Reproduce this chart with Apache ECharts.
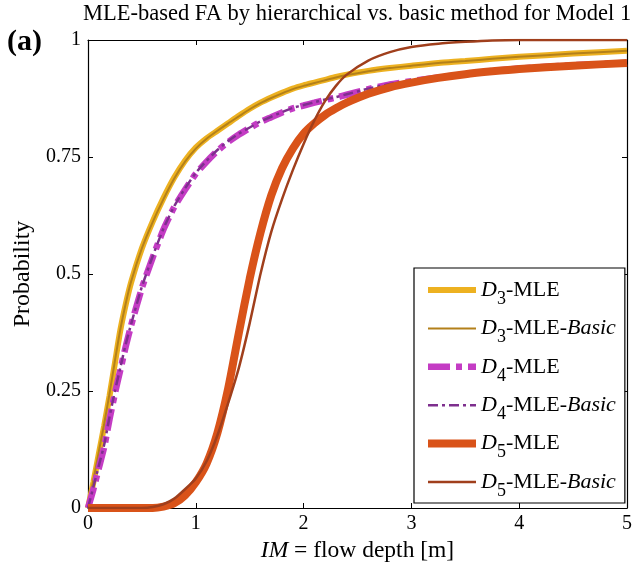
<!DOCTYPE html>
<html>
<head>
<meta charset="utf-8">
<script src="https://cdn.jsdelivr.net/npm/echarts@6/dist/echarts.min.js"></script>
<style>
  html, body { margin: 0; padding: 0; background: #fff; }
  #chart { width: 635px; height: 568px; }
</style>
</head>
<body>
<div id="chart"></div>
<script>
// Fragility curves: probability vs. flow depth, hierarchical vs. basic MLE fits.
const chartTitle = 'MLE-based FA by hierarchical vs. basic method for Model 1';
const panelTag = '(a)';
const xTicks = [0, 1, 2, 3, 4, 5];
const yTicks = [0, 0.25, 0.5, 0.75, 1];

const depth = [0, 0.05, 0.1, 0.15, 0.2, 0.25, 0.3, 0.35, 0.4, 0.5, 0.6, 0.7, 0.8, 0.9,
  1.0, 1.1, 1.2, 1.3, 1.4, 1.5, 1.6, 1.7, 1.8, 1.9, 2.0, 2.1, 2.2, 2.3, 2.4,
  2.6, 2.8, 3.0, 3.25, 3.5, 3.75, 4.0, 4.5, 5.0];

const d3Mle = [0, .055, .115, .175, .24, .31, .38, .435, .482, .555, .612, .662, .706, .742,
  .77, .79, .806, .822, .838, .853, .866, .877, .887, .896, .903, .909, .915, .921, .926,
  .934, .940, .945, .951, .955, .960, .964, .971, .977];
const d3Basic = [0, .06, .12, .18, .245, .315, .382, .437, .484, .555, .611, .660, .704, .740,
  .768, .789, .806, .822, .837, .852, .865, .876, .886, .895, .902, .908, .914, .920, .925,
  .933, .940, .945, .951, .955, .960, .964, .971, .977];
const d4Mle = [0, .04, .085, .13, .19, .245, .295, .345, .39, .47, .535, .595, .643, .68,
  .714, .74, .763, .782, .798, .812, .825, .835, .845, .854, .86, .866, .872, .877, .883,
  .895, .905, .912, .92, .927, .934, .939, .946, .951];
const d4Basic = [0, .045, .09, .135, .195, .25, .30, .35, .393, .473, .538, .597, .645, .683,
  .716, .742, .765, .784, .80, .813, .826, .836, .846, .855, .861, .867, .873, .878, .884,
  .896, .906, .913, .921, .928, .935, .94, .946, .952];
const d5Mle = [0, 0, 0, 0, 0, 0, 0, 0, 0, 0, 0, .003, .01, .027,
  .055, .095, .16, .255, .375, .49, .588, .668, .726, .768, .80, .822, .84, .854, .866,
  .885, .899, .909, .919, .927, .933, .938, .945, .951];
const d5Basic = [0, 0, 0, 0, 0, 0, 0, 0, 0, 0, .002, .008, .02, .04,
  .063, .10, .155, .224, .30, .395, .50, .59, .66, .722, .778, .828, .87, .902, .926,
  .956, .974, .985, .992, .996, .999, 1, 1, 1];

const seriesNames = ['D3-MLE', 'D3-MLE-Basic', 'D4-MLE', 'D4-MLE-Basic', 'D5-MLE', 'D5-MLE-Basic'];
const seriesValues = [d3Mle, d3Basic, d4Mle, d4Basic, d5Mle, d5Basic];
const seriesStyles = [
  { color: '#EDB120', width: 6, type: 'solid' },
  { color: '#B3801A', width: 2, type: 'solid' },
  { color: '#C43CC4', width: 6.5, type: [22, 6, 6, 6] },
  { color: '#7E2F8E', width: 2.5, type: [10, 4, 3, 4] },
  { color: '#D95319', width: 8, type: 'solid' },
  { color: '#A03F1C', width: 2.5, type: 'solid' }
];

const FONT = '"Liberation Serif", "Times New Roman", serif';

function legendLabel(name) {
  // "D3-MLE-Basic" -> italic D, subscript 3, roman "-MLE-", italic "Basic"
  const m = name.match(/^D(\d)-MLE(-Basic)?$/);
  let s = '{it|D}{sub|' + m[1] + '}{rm|-MLE}';
  if (m[2]) s += '{rm|-}{it|Basic}';
  return s;
}

const chart = echarts.init(document.getElementById('chart'), null, { renderer: 'canvas' });

const axisCommon = {
  type: 'value',
  axisLine: { show: true, onZero: false, lineStyle: { color: '#000', width: 1.2 } },
  axisTick: { show: true, inside: true, length: 5, lineStyle: { color: '#000', width: 1 } },
  splitLine: { show: false },
  axisLabel: { color: '#000', fontFamily: FONT, fontSize: 20 }
};

chart.setOption({
  animation: false,
  backgroundColor: '#fff',
  title: [
    { text: chartTitle, left: 83, top: 1, padding: 0,
      textStyle: { fontFamily: FONT, fontSize: 22.5, fontWeight: 'normal', color: '#000', lineHeight: 26 } },
    { text: panelTag, left: 7, top: 25, padding: 0,
      textStyle: { fontFamily: FONT, fontSize: 30, fontWeight: 'bold', color: '#000', lineHeight: 34 } }
  ],
  grid: { left: 88, right: 8, top: 40, bottom: 60, containLabel: false },
  legend: {
    data: seriesNames.map((name, i) => ({
      name: name,
      lineStyle: { width: seriesStyles[i].width, type: seriesStyles[i].type, color: seriesStyles[i].color, cap: 'butt' },
      itemStyle: { opacity: 0 }
    })),
    orient: 'vertical',
    left: 414,
    top: 268,
    padding: [11, 9, 3, 10],
    itemGap: 9.4,
    itemWidth: 48,
    itemHeight: 14,
    backgroundColor: '#fff',
    borderColor: '#000',
    borderWidth: 1.2,
    borderRadius: 0,
    itemStyle: { opacity: 0 },
    formatter: legendLabel,
    textStyle: {
      color: '#000',
      fontFamily: FONT,
      rich: {
        it: { fontFamily: FONT, fontSize: 22, fontStyle: 'italic', lineHeight: 36, verticalAlign: 'middle', color: '#000' },
        rm: { fontFamily: FONT, fontSize: 22, lineHeight: 36, verticalAlign: 'middle', color: '#000' },
        sub: { fontFamily: FONT, fontSize: 18, lineHeight: 14, verticalAlign: 'bottom', color: '#000' }
      }
    }
  },
  xAxis: [
    Object.assign({}, axisCommon, {
      position: 'bottom', min: xTicks[0], max: xTicks[xTicks.length - 1], interval: 1,
      axisLabel: Object.assign({}, axisCommon.axisLabel, { margin: 6 }),
      name: '{it|IM} = flow depth [m]',
      nameLocation: 'middle',
      nameGap: 24,
      nameTextStyle: {
        color: '#000', fontFamily: FONT, fontSize: 23.5,
        rich: {
          it: { fontFamily: FONT, fontSize: 23.5, fontStyle: 'italic', color: '#000' }
        }
      }
    }),
    Object.assign({}, axisCommon, {
      position: 'top', min: xTicks[0], max: xTicks[xTicks.length - 1], interval: 1,
      axisLabel: { show: false }
    })
  ],
  yAxis: [
    Object.assign({}, axisCommon, {
      position: 'left', min: yTicks[0], max: yTicks[yTicks.length - 1], interval: 0.25,
      axisLabel: Object.assign({}, axisCommon.axisLabel, { margin: 7 }),
      name: 'Probability',
      nameLocation: 'middle',
      nameGap: 50,
      nameTextStyle: { color: '#000', fontFamily: FONT, fontSize: 24 }
    }),
    Object.assign({}, axisCommon, {
      position: 'right', min: yTicks[0], max: yTicks[yTicks.length - 1], interval: 0.25,
      axisLabel: { show: false }
    })
  ],
  series: seriesNames.map((name, i) => ({
    name: name,
    type: 'line',
    xAxisIndex: 0,
    yAxisIndex: 0,
    data: depth.map((x, k) => [x, seriesValues[i][k]]),
    showSymbol: false,
    symbol: 'none',
    smooth: 0.2,
    clip: true,
    lineStyle: { color: seriesStyles[i].color, width: seriesStyles[i].width, type: seriesStyles[i].type, cap: 'butt' },
    itemStyle: { color: seriesStyles[i].color },
    z: 2 + i
  }))
});
</script>
</body>
</html>
